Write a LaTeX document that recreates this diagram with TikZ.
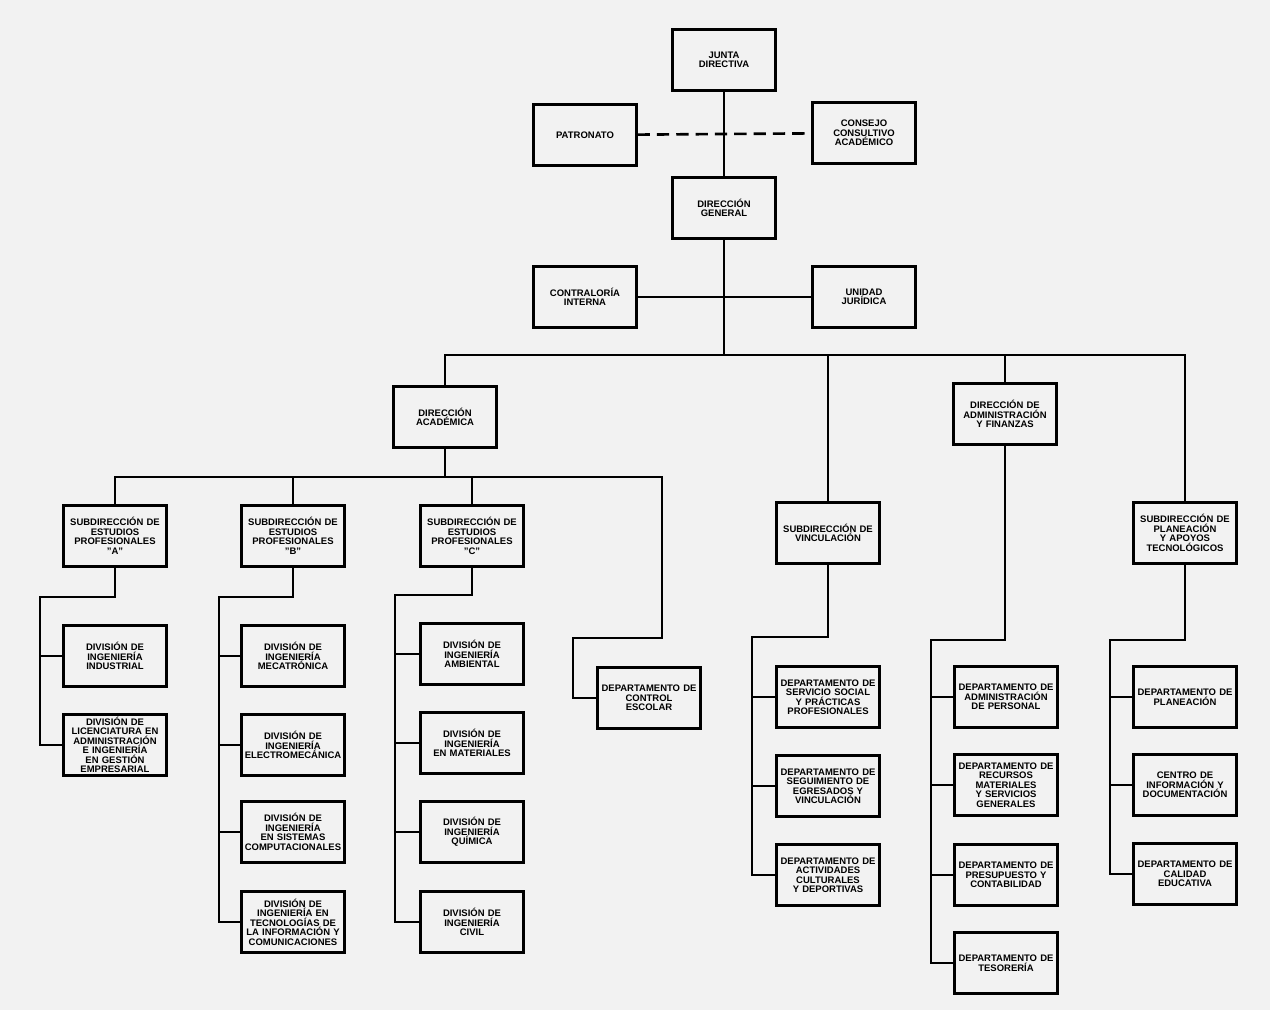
\documentclass[tikz,border=0pt]{standalone}
\usepackage{fontspec}
\setmainfont{Liberation Sans}
\usepackage{tikz}
\usetikzlibrary{positioning,calc}

\begin{document}
\begin{tikzpicture}[x=0.02cm,y=-0.02cm,
    unit/.style={draw,line width=1.25pt,minimum width=2.06cm,minimum height=1.22cm,
      text width=2cm,align=center,inner sep=0.5pt,
      font=\bfseries\fontsize{5.4}{5.4}\selectfont},
    wire/.style={line width=1.15pt}]
  \fill[black!5] (0,0) rectangle (1270,1010);
  \useasboundingbox (0,0) rectangle (1270,1010);

  \node[unit] (junta) at (724,60) {JUNTA\\DIRECTIVA};
  \node[unit] (patronato) at (585,135) {PATRONATO};
  \node[unit] (consejo) at (864,133) {CONSEJO\\CONSULTIVO\\ACADÉMICO};
  \node[unit] (general) at (724,208) {DIRECCIÓN\\GENERAL};
  \node[unit] (contraloria) at (585,297) {CONTRALORÍA\\INTERNA};
  \node[unit] (juridica) at (864,297) {UNIDAD\\JURÍDICA};

  \node[unit] (academica) at (445,417) {DIRECCIÓN\\ACADÉMICA};
  \node[unit] (vinculacion) at (828,533) {SUBDIRECCIÓN DE\\VINCULACIÓN};
  \node[unit] (finanzas) at (1005,414) {DIRECCIÓN DE\\ADMINISTRACIÓN\\Y FINANZAS};
  \node[unit] (planeacion) at (1185,533) {SUBDIRECCIÓN DE\\PLANEACIÓN\\Y APOYOS\\TECNOLÓGICOS};

  \foreach \nm/\xx/\lt in {subA/115/A, subB/293/B, subC/472/C}
    \node[unit] (\nm) at (\xx,536) {SUBDIRECCIÓN DE\\ESTUDIOS\\PROFESIONALES\\"\lt"};
  \node[unit] (escolar) at (649,698) {DEPARTAMENTO DE\\CONTROL\\ESCOLAR};

  \foreach \nm/\yy/\txt in {indus/656/{DIVISIÓN DE\\INGENIERÍA\\INDUSTRIAL},
      licen/745/{DIVISIÓN DE\\LICENCIATURA EN\\ADMINISTRACIÓN\\E INGENIERÍA\\EN GESTIÓN\\EMPRESARIAL}}
    \node[unit] (\nm) at (115,\yy) {\txt};
  \foreach \nm/\yy/\txt in {mecat/656/{DIVISIÓN DE\\INGENIERÍA\\MECATRÓNICA},
      electro/745/{DIVISIÓN DE\\INGENIERÍA\\ELECTROMECÁNICA},
      sistemas/832/{DIVISIÓN DE\\INGENIERÍA\\EN SISTEMAS\\COMPUTACIONALES},
      tic/922/{DIVISIÓN DE\\INGENIERÍA EN\\TECNOLOGÍAS DE\\LA INFORMACIÓN Y\\COMUNICACIONES}}
    \node[unit] (\nm) at (293,\yy) {\txt};
  \foreach \nm/\yy/\txt in {ambiental/654/{DIVISIÓN DE\\INGENIERÍA\\AMBIENTAL},
      materiales/743/{DIVISIÓN DE\\INGENIERÍA\\EN MATERIALES},
      quimica/832/{DIVISIÓN DE\\INGENIERÍA\\QUÍMICA},
      civil/922/{DIVISIÓN DE\\INGENIERÍA\\CIVIL}}
    \node[unit] (\nm) at (472,\yy) {\txt};
  \foreach \nm/\yy/\txt in {social/697/{DEPARTAMENTO DE\\SERVICIO SOCIAL\\Y PRÁCTICAS\\PROFESIONALES},
      egresados/786/{DEPARTAMENTO DE\\SEGUIMIENTO DE\\EGRESADOS Y\\VINCULACIÓN},
      culturales/875/{DEPARTAMENTO DE\\ACTIVIDADES\\CULTURALES\\Y DEPORTIVAS}}
    \node[unit] (\nm) at (828,\yy) {\txt};
  \foreach \nm/\yy/\txt in {personal/697/{DEPARTAMENTO DE\\ADMINISTRACIÓN\\DE PERSONAL},
      recursos/785/{DEPARTAMENTO DE\\RECURSOS\\MATERIALES\\Y SERVICIOS\\GENERALES},
      presupuesto/875/{DEPARTAMENTO DE\\PRESUPUESTO Y\\CONTABILIDAD},
      tesoreria/963/{DEPARTAMENTO DE\\TESORERÍA}}
    \node[unit] (\nm) at (1006,\yy) {\txt};
  \foreach \nm/\yy/\txt in {depplan/697/{DEPARTAMENTO DE\\PLANEACIÓN},
      centro/785/{CENTRO DE\\INFORMACIÓN Y\\DOCUMENTACIÓN},
      calidad/874/{DEPARTAMENTO DE\\CALIDAD\\EDUCATIVA}}
    \node[unit] (\nm) at (1185,\yy) {\txt};

  \coordinate (bus) at (724,355);
  \coordinate (escA) at (662,477);
  \coordinate (escC) at (573,638);
  \coordinate (spA) at (40,597);
  \coordinate (spB) at (219,597);
  \coordinate (spC) at (395,595);
  \coordinate (spV) at (752,637);
  \coordinate (spF) at (931,640);
  \coordinate (spP) at (1110,640);

  \draw[wire] (junta) -- (general);
  \draw[wire,line width=1.5pt,dash pattern=on 7pt off 4pt] (patronato) -- (consejo);
  \draw[wire] (contraloria) -- (juridica);
  \draw[wire] (general) -- (bus);
  \draw[wire] (academica.north) |- (bus) -| (planeacion.north);
  \draw[wire] (vinculacion.north) -- (vinculacion.north |- bus);
  \draw[wire] (finanzas.north) -- (finanzas.north |- bus);

  \draw[wire] (academica) -- (academica |- escA);
  \draw[wire] (subA.north) |- (escA) |- (escC) |- (escolar.west);
  \draw[wire] (subB.north) -- (subB.north |- escA);
  \draw[wire] (subC.north) -- (subC.north |- escA);

  \draw[wire] (subA.south) |- (spA) |- (licen.west);
  \draw[wire] (spA |- indus.west) -- (indus.west);
  \draw[wire] (subB.south) |- (spB) |- (tic.west);
  \foreach \nm in {mecat,electro,sistemas}
    \draw[wire] (spB |- \nm.west) -- (\nm.west);
  \draw[wire] (subC.south) |- (spC) |- (civil.west);
  \foreach \nm in {ambiental,materiales,quimica}
    \draw[wire] (spC |- \nm.west) -- (\nm.west);
  \draw[wire] (vinculacion.south) |- (spV) |- (culturales.west);
  \foreach \nm in {social,egresados}
    \draw[wire] (spV |- \nm.west) -- (\nm.west);
  \draw[wire] (finanzas.south) |- (spF) |- (tesoreria.west);
  \foreach \nm in {personal,recursos,presupuesto}
    \draw[wire] (spF |- \nm.west) -- (\nm.west);
  \draw[wire] (planeacion.south) |- (spP) |- (calidad.west);
  \foreach \nm in {depplan,centro}
    \draw[wire] (spP |- \nm.west) -- (\nm.west);
\end{tikzpicture}
\end{document}
